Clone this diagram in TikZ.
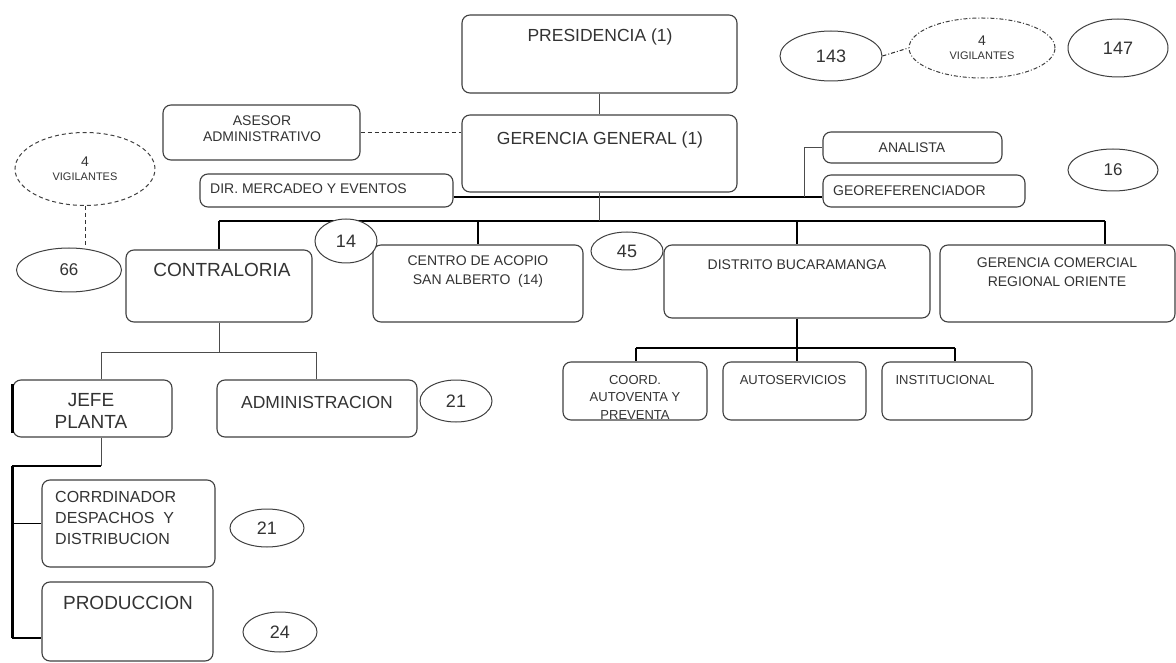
\documentclass[tikz,border=0pt]{standalone}
\usepackage{fontspec}
\setmainfont{Liberation Sans}
\usetikzlibrary{shapes.geometric}
\newcommand\tsz[2]{\fontsize{#1}{#2}\selectfont}
\tikzset{
  box/.style={draw=black!75, line width=1.1pt, rounded corners=8pt, inner sep=0pt},
  oval/.style={ellipse, draw=black!75, line width=1pt, inner sep=0pt, fill=white, text=black!80},
  txt/.style={text=black!80, inner sep=0pt, align=center},
  con/.style={draw=black, line width=1.3pt},
  lite/.style={draw=black!70, line width=0.9pt},
  dashcon/.style={draw=black!80, line width=1pt, dash pattern=on 4pt off 3pt},
}
\begin{document}
\begin{tikzpicture}[x=1pt,y=-1pt]
\useasboundingbox (0,0) rectangle (1176,663);
\fill[white] (0,0) rectangle (1176,663);

% ---- boxes ----
\node[box, minimum width=275pt, minimum height=78pt] (pres) at (599.5,54) {};
\node[txt, font=\tsz{17.5}{21}] (prest) at (600,37) {PRESIDENCIA (1)};
\node[box, minimum width=275pt, minimum height=77pt] (ger) at (599.5,153.5) {};
\node[txt, font=\tsz{17.5}{21}] (gert) at (600,140) {GERENCIA GENERAL (1)};
\node[box, minimum width=197pt, minimum height=55pt] (asesor) at (261.5,132.5) {};
\node[txt, font=\tsz{14}{16}] (asesort) at (262,129) {ASESOR\\ADMINISTRATIVO};
\node[box, minimum width=253pt, minimum height=33pt] (dir) at (326.5,190.5) {};
\node[txt, font=\tsz{14}{16}, anchor=west] (dirt) at (210,189) {DIR. MERCADEO Y EVENTOS};
\node[box, minimum width=179pt, minimum height=31pt] (anal) at (912.5,147.5) {};
\node[txt, font=\tsz{14}{16}] (analt) at (912,148) {ANALISTA};
\node[box, minimum width=202pt, minimum height=32pt] (geo) at (924,191) {};
\node[txt, font=\tsz{14}{16}, anchor=west] (geot) at (833,191) {GEOREFERENCIADOR};

\node[box, minimum width=186pt, minimum height=72pt] (contra) at (219,286) {};
\node[txt, font=\tsz{19}{22}] (contrat) at (222,270) {CONTRALORIA};
\node[box, minimum width=210pt, minimum height=77pt] (centro) at (478,283.5) {};
\node[txt, font=\tsz{14}{19}] (centrot) at (478,272) {CENTRO DE ACOPIO\\SAN ALBERTO~~(14)};
\node[box, minimum width=266pt, minimum height=73pt] (distrito) at (797,281.5) {};
\node[txt, font=\tsz{14}{16}] (distritot) at (797,265) {DISTRITO BUCARAMANGA};
\node[box, minimum width=235pt, minimum height=77pt] (gcom) at (1057.5,283.5) {};
\node[txt, font=\tsz{14}{19}] (gcomt) at (1057,272) {GERENCIA COMERCIAL\\REGIONAL ORIENTE};

\node[box, minimum width=159pt, minimum height=57pt] (jefe) at (92.5,408.5) {};
\node[txt, font=\tsz{19}{22}] (jefet) at (91,411) {JEFE\\PLANTA};
\node[box, minimum width=200pt, minimum height=57pt] (admin) at (317,408.5) {};
\node[txt, font=\tsz{17.5}{21}] (admint) at (317,402) {ADMINISTRACION};
\node[box, minimum width=173pt, minimum height=87pt] (corrd) at (128.5,523.5) {};
\node[txt, font=\tsz{16}{21}, align=left, anchor=north west] (corrdt) at (55,491) {CORRDINADOR\\DESPACHOS~~Y\\DISTRIBUCION};
\node[box, minimum width=171pt, minimum height=79pt] (prod) at (127.5,621.5) {};
\node[txt, font=\tsz{19}{22}] (prodt) at (128,603) {PRODUCCION};

\node[box, minimum width=144pt, minimum height=58pt] (coord) at (635,391) {};
\node[txt, font=\tsz{13}{17.5}] (coordt) at (635,397) {COORD.\\AUTOVENTA Y\\PREVENTA};
\node[box, minimum width=143pt, minimum height=58pt] (autos) at (794.5,391) {};
\node[txt, font=\tsz{13}{16}] (autost) at (793,380) {AUTOSERVICIOS};
\node[box, minimum width=150pt, minimum height=58pt] (inst) at (957,391) {};
\node[txt, font=\tsz{13}{16}] (instt) at (945,380) {INSTITUCIONAL};

% ---- connectors ----
\draw[lite] (pres.south) -- (ger.north);
\draw[dashcon] (asesor.east) -- (asesor.east -| ger.west);
\draw[con] (dir.east |- 0,197) -- (geo.west |- 0,197);
\coordinate (brk) at (804,197);
\draw[lite] (brk) |- (anal.west);

\coordinate (busL) at (219,221);
\coordinate (busR) at (1105,221);
\draw[con] (busL) -- (busR);
\draw[lite] (ger.south) -- (ger.south |- busL);
\draw[con] (busL) -- (contra.north);
\draw[con] (centro.north |- busL) -- (centro.north);
\draw[con] (distrito.north |- busL) -- (distrito.north);
\draw[con] (busR) -- (busR |- gcom.north);

\coordinate (cbL) at (101,352);
\coordinate (cbR) at (316,352);
\draw[lite] (contra.south) -- (contra.south |- cbL);
\draw[lite] (cbL) -- (cbR);
\draw[lite] (cbL) -- (cbL |- jefe.north);
\draw[lite] (cbR) -- (cbR |- admin.north);

\coordinate (jb) at (101,466);
\coordinate (jv) at (12,466);
\coordinate (jv2) at (12,638);
\draw[lite] (jb |- jefe.south) -- (jb);
\draw[con] (jb) -- (jv);
\draw[draw=black, line width=3pt] (jv) -- (jv2);
\draw[con] (jv |- corrd.west) -- (corrd.west);
\draw[con] (jv2) -- (jv2 -| prod.west);
\draw[draw=black, line width=2.6pt] ([yshift=-5pt]jefe.north west) -- ([yshift=5pt]jefe.south west);

\coordinate (dbL) at (636,348);
\coordinate (dbR) at (955,348);
\draw[con] (distrito.south) -- (distrito.south |- dbL);
\draw[con] (dbL) -- (dbR);
\draw[con] (dbL) -- (dbL |- coord.north);
\draw[con] (distrito.south |- dbL) -- (distrito.south |- autos.north);
\draw[con] (dbR) -- (dbR |- inst.north);

% ---- ovals ----
\node[oval, minimum width=102pt, minimum height=50pt, font=\tsz{18}{20}] (e143) at (831,56) {143};
\node[oval, dash pattern=on 4pt off 2pt on 1pt off 2pt, minimum width=146pt, minimum height=60pt, align=center, font=\tsz{14}{15}] (vig1) at (982,48) {4\\[-1pt]{\tsz{11}{12}VIGILANTES}};
\node[oval, minimum width=100pt, minimum height=58pt, font=\tsz{18}{20}] (e147) at (1118,48) {147};
\node[oval, minimum width=90pt, minimum height=42pt, font=\tsz{17}{20}] (e16) at (1113,170) {16};
\node[oval, dash pattern=on 4pt off 3pt, minimum width=140pt, minimum height=73pt, align=center, font=\tsz{14}{15}] (vig2) at (85,169) {4\\[-1pt]{\tsz{11}{12}VIGILANTES}};
\node[oval, minimum width=105pt, minimum height=44pt, font=\tsz{17}{20}] (e66) at (69,270) {66};
\node[oval, minimum width=62pt, minimum height=44pt, font=\tsz{18}{20}] (e14) at (346,241) {14};
\node[oval, minimum width=72pt, minimum height=38pt, font=\tsz{18}{20}] (e45) at (627,251) {45};
\node[oval, minimum width=72pt, minimum height=42pt, font=\tsz{18}{20}] (e21a) at (456,401) {21};
\node[oval, minimum width=74pt, minimum height=38pt, font=\tsz{18}{20}] (e21b) at (267,528) {21};
\node[oval, minimum width=74pt, minimum height=40pt, font=\tsz{18}{20}] (e24) at (280,632) {24};

\draw[draw=black!80, line width=1pt, dash pattern=on 4pt off 2pt on 1pt off 2pt] (e143.east) -- (vig1.west);
\draw[dashcon] (vig2.south) -- (vig2.south |- e66.north);
\end{tikzpicture}
\end{document}
